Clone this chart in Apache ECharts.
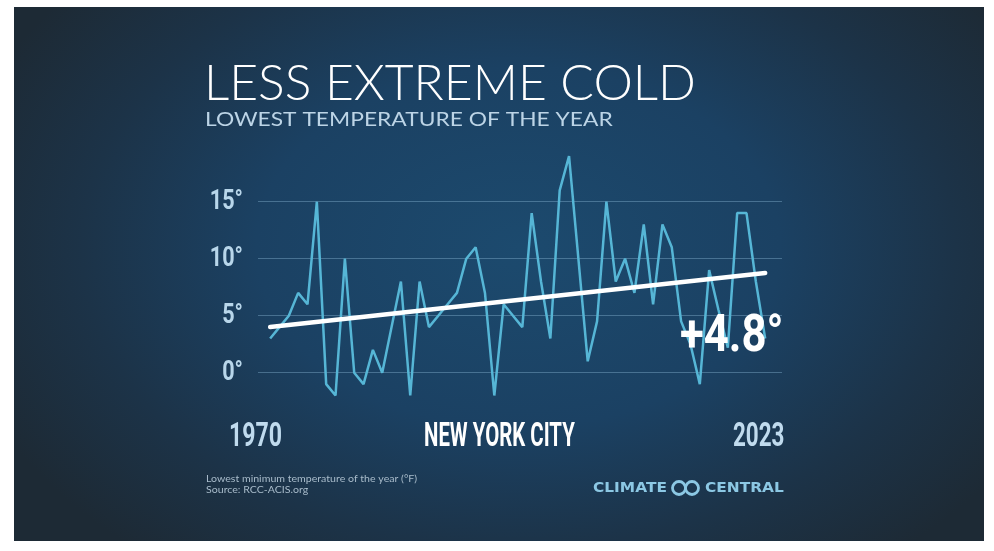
<!DOCTYPE html>
<html>
<head>
<meta charset="utf-8">
<script src="https://cdn.jsdelivr.net/npm/echarts@6/dist/echarts.min.js"></script>
<style>
  html, body { margin: 0; padding: 0; background: #ffffff; }
  #panel {
    position: absolute; left: 14px; top: 7px; width: 970px; height: 534px;
    background: radial-gradient(ellipse 60% 75% at 52% 45%, #1c4a6e 0%, #1b4163 45%, #1c3348 75%, #1d2a35 100%);
  }
  #chart { position: absolute; left: 0; top: 0; width: 994px; height: 551px; }
</style>
</head>
<body>
<div id="panel"></div>
<div id="chart"></div>
<script>
// lowest temperature of the year, New York City (°F)
const years = []
for (let y = 1970; y <= 2023; y++) years.push(y)
const lowest = [
  3, 4, 5, 7, 6, 15, -1, -2, 10, 0,
  -1, 2, 0, 4, 8, -2, 8, 4, 5, 6,
  7, 10, 11, 7, -2, 6, 5, 4, 14, 8,
  3, 16, 19, 10, 1, 4.5, 15, 8, 10, 7,
  13, 6, 13, 11, 4.5, 2.5, -1, 9, 5.5, 2.2,
  14, 14, 8, 3
]
const trendYears = [1970, 2023]
const trendValues = [4.0, 8.75]
const yTicks = [0, 5, 10, 15]

const xMin = 1968.7
const narrow = 'Roboto, sans-serif'

const chart = echarts.init(document.getElementById('chart'))

// one condensed white/blue caption
function caption(text, x, y, size, sx, color, weight, family) {
  return {
    type: 'text', x: x, y: y, scaleX: sx, z: 10, silent: true,
    style: {
      text: text, fill: color,
      font: (weight || 'bold') + ' ' + size + 'px ' + (family || narrow),
      align: 'left', verticalAlign: 'middle',
      textAlign: 'left', textVerticalAlign: 'middle',
    },
  }
}

const option = {
  backgroundColor: 'transparent',
  animation: false,
  grid: { left: 258, right: 212, top: 144.7, bottom: 121.3 },
  xAxis: { type: 'value', min: xMin, max: 2024.8, show: false },
  yAxis: {
    type: 'value',
    min: -5,
    max: 20,
    interval: 5,
    axisLine: { show: false },
    axisTick: { show: false },
    axisLabel: { show: false },
    splitLine: {
      lineStyle: {
        // -5 and 20 hidden, 0..15 drawn
        color: ['transparent', 'rgba(140,185,215,0.4)', 'rgba(140,185,215,0.4)',
          'rgba(140,185,215,0.4)', 'rgba(140,185,215,0.4)', 'transparent'],
        width: 1,
      },
    },
  },
  series: [
    {
      // narrow tick labels, placed through the y scale
      type: 'custom',
      silent: true,
      clip: false,
      data: yTicks.map((v) => [xMin, v]),
      renderItem: function (params, api) {
        const p = api.coord([api.value(0), api.value(1)])
        return {
          type: 'text', x: p[0] - 15, y: p[1] + 1, scaleX: 0.8,
          style: {
            text: api.value(1) + '°', fill: '#b8d6ea', font: 'bold 27px ' + narrow,
            align: 'right', verticalAlign: 'middle',
            textAlign: 'right', textVerticalAlign: 'middle',
          },
        }
      },
    },
    {
      type: 'line',
      data: years.map((y, i) => [y, lowest[i]]),
      symbol: 'none',
      lineStyle: { color: '#56b6d6', width: 2.5 },
      z: 2,
    },
    {
      type: 'line',
      data: trendYears.map((y, i) => [y, trendValues[i]]),
      symbol: 'none',
      lineStyle: { color: '#ffffff', width: 4.5, cap: 'round' },
      z: 3,
    },
  ],
  graphic: [
    caption('LESS EXTREME COLD', 204, 84, 49.8, 1, '#ffffff', '300', 'Lato, sans-serif'),
    caption('LOWEST TEMPERATURE OF THE YEAR', 205, 120, 20, 1.14, '#bcd4e6', '400', 'Lato, sans-serif'),
    caption('1970', 229, 437, 34, 0.68, '#c0dbee'),
    caption('NEW YORK CITY', 424, 437, 34, 0.6, '#ffffff'),
    caption('2023', 733, 437, 34, 0.66, '#c0dbee'),
    caption('+4.8°', 680, 338, 52, 0.84, '#ffffff'),
    caption('Lowest minimum temperature of the year (°F)', 206, 479, 10, 1.06, '#a9bccb', '400', 'Lato, sans-serif'),
    caption('Source: RCC-ACIS.org', 206, 490, 10, 1.06, '#a9bccb', '400', 'Lato, sans-serif'),
    caption('CLIMATE', 593, 488, 14, 1.1, '#8cc8e4', 'bold', '"DejaVu Sans", sans-serif'),
    {
      type: 'circle', z: 10,
      shape: { cx: 679, cy: 488, r: 6.5 },
      style: { fill: 'none', stroke: '#8cc8e4', lineWidth: 2.8 },
    },
    {
      type: 'circle', z: 10,
      shape: { cx: 692, cy: 488, r: 6.5 },
      style: { fill: 'none', stroke: '#8cc8e4', lineWidth: 2.8 },
    },
    caption('CENTRAL', 705, 488, 14, 1.1, '#8cc8e4', 'bold', '"DejaVu Sans", sans-serif'),
  ],
}
chart.setOption(option)
</script>
</body>
</html>
